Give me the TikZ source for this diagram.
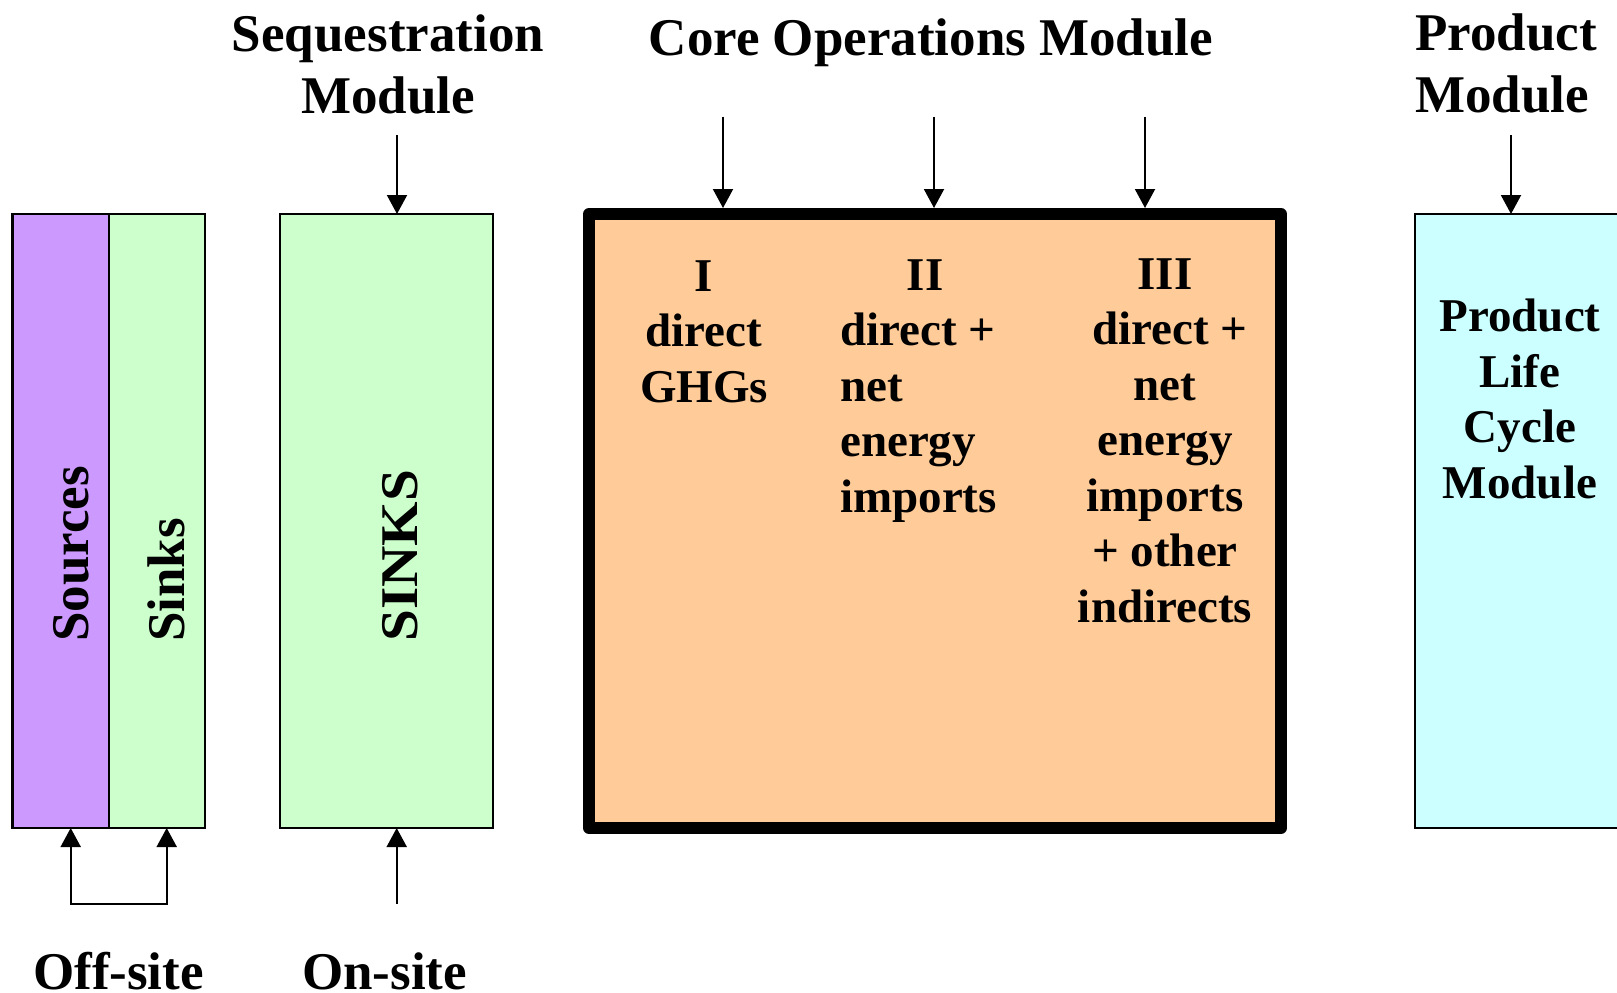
\documentclass[tikz,border=0pt]{standalone}
\usepackage{fontspec}
\setmainfont{Liberation Serif}
\usetikzlibrary{arrows.meta}
\definecolor{srcpurple}{HTML}{CC99FF}
\definecolor{snkgreen}{HTML}{CCFFCC}
\definecolor{coreorange}{HTML}{FFCC99}
\definecolor{prodcyan}{HTML}{CCFFFF}
\begin{document}
\begin{tikzpicture}[x=1pt,y=-1pt,
  box/.style={draw=black, line width=2.5pt, inner sep=0pt, outer sep=0pt, anchor=north west},
  arr/.style={line width=2pt, -{Triangle[width=20pt,length=19pt]}},
  head/.style={font=\fontsize{53}{62}\selectfont\bfseries, inner sep=0pt, align=center},
  body/.style={font=\fontsize{47}{55.5}\selectfont\bfseries, inner sep=0pt},
  vert/.style={font=\fontsize{53}{62}\selectfont\bfseries, inner sep=0pt, rotate=90, anchor=base west}]
\clip (0,0) rectangle (1617,993);
\fill[white] (0,0) rectangle (1617,993);
% boxes
\node[box, fill=srcpurple, minimum width=96.7pt, minimum height=614pt] (src) at (12.3,214) {};
\node[box, fill=snkgreen, minimum width=96pt, minimum height=614pt] (snk) at (109,214) {};
\node[box, fill=snkgreen, minimum width=213pt, minimum height=614pt] (seq) at (280,214) {};
\node[box, fill=coreorange, line width=12pt, line join=round, minimum width=692pt, minimum height=614pt] (core) at (589,214) {};
\node[box, fill=prodcyan, minimum width=240pt, minimum height=614pt] (prod) at (1415,214) {};
% arrows from top
\coordinate (s0) at (397,135);
\coordinate (c1) at (723,116.5);
\coordinate (c2) at (934,116.5);
\coordinate (c3) at (1145,116.5);
\coordinate (p0) at (1511,135);
\draw[arr] (s0) -- (s0 |- seq.north);
\draw[arr] (c1) -- ([yshift=6pt]c1 |- core.north);
\draw[arr] (c2) -- ([yshift=6pt]c2 |- core.north);
\draw[arr] (c3) -- ([yshift=6pt]c3 |- core.north);
\draw[arr] (p0) -- (p0 |- prod.north);
% arrows from bottom
\coordinate (offL) at (70.7,904);
\coordinate (offR) at (166.7,904);
\coordinate (on0) at (396.7,904);
\draw[line width=2pt, {Triangle[width=20pt,length=19pt]}-{Triangle[width=20pt,length=19pt]}] (offL |- src.south) -- (offL) -- (offR) -- (offR |- snk.south);
\draw[arr] (on0) -- (on0 |- seq.south);
% headings (anchor = baseline of last line)
\node[head, anchor=base] (seqlbl) at (388,113) {Sequestration\\Module};
\node[head, anchor=base] (corelbl) at (931,55) {Core Operations Module};
\node[head, align=left, anchor=base west] (prodlbl) at (1415,112) {Product\\Module};
% core texts
\node[body, align=center, anchor=base] (c1t) at (704,402) {I\\direct\\GHGs};
\node[body, anchor=base] (c2h) at (925,290) {II};
\node[body, align=left, anchor=base west] (c2t) at (840,512) {direct +\\net\\energy\\imports};
\node[body, align=center, anchor=base] (c3t) at (1165,622) {III\\\hspace*{10pt}direct +\\net\\energy\\imports\\+ other\\indirects};
\node[body, align=center, anchor=base] (plc) at (1520,498) {Product\\Life\\Cycle\\Module};
% rotated
\node[vert] (srct) at (88,642) {Sources};
\node[vert] (snkt) at (184,642) {Sinks};
\node[vert, xscale=1.08] (seqt) at (417,642) {SINKS};
% bottom labels
\node[head, anchor=base] (off) at (118.5,989) {Off-site};
\node[head, anchor=base] (on) at (384.5,989) {On-site};
\end{tikzpicture}
\end{document}
